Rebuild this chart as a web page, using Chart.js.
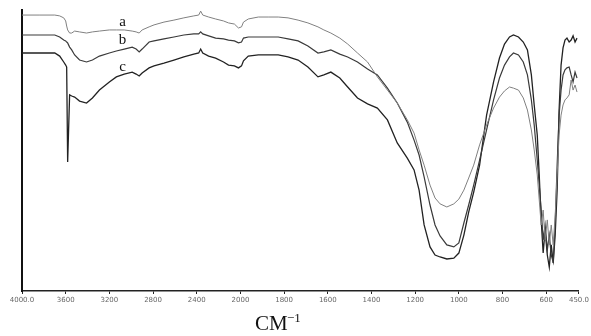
<!DOCTYPE html>
<html>
<head>
<meta charset="utf-8">
<script src="https://cdn.jsdelivr.net/npm/chart.js@4.4.1/dist/chart.umd.min.js"></script>
<style>
  html, body { margin: 0; padding: 0; background: #fff; }
  #wrap { width: 591px; height: 336px; position: relative; }
</style>
</head>
<body>
<div id="wrap"><canvas id="irChart"></canvas></div>
<script>
// Wavenumbers (cm-1) shared by the three spectra
const wavenumbers = [
  4000, 3836, 3700, 3655, 3618, 3600, 3591, 3582, 3564, 3545,
  3518, 3473, 3409, 3355, 3291, 3200, 3136, 3064, 2991, 2955,
  2927, 2900, 2836, 2791, 2700, 2609, 2518, 2427, 2382, 2364,
  2345, 2291, 2227, 2155, 2109, 2055, 2018,
  1995, 1986, 1964, 1918, 1873, 1827, 1782, 1736, 1691, 1645,
  1618, 1586, 1545, 1509, 1464, 1418, 1373, 1327, 1282, 1236,
  1205, 1182, 1159, 1132, 1109, 1086, 1055, 1023, 1000, 977,
  955, 932, 905, 873, 841, 814, 791, 768, 750, 727,
  705, 686, 668, 655, 641, 632, 623, 614, 605, 595,
  586, 577, 568, 559, 550, 541, 532, 523, 514, 505,
  495, 486, 477, 468, 459
];

// Transmittance (%)
const seriesA = [
  98.2, 98.2, 98.2, 97.9, 97.2, 96.1, 94.3, 92.9, 91.8, 91.8,
  92.5, 92.2, 91.8, 92.2, 92.5, 92.9, 92.9, 92.9, 92.5, 92.2,
  91.8, 92.9, 94.0, 94.7, 95.7, 96.4, 97.2, 97.9, 98.2, 99.6,
  98.2, 97.5, 96.8, 96.1, 95.4, 95.0, 93.6,
  94.0, 95.7, 96.8, 97.5, 97.5, 97.5, 97.2, 96.4, 95.4, 94.0,
  92.9, 91.8, 90.0, 87.9, 84.7, 81.5, 76.2, 71.5, 66.9, 60.9,
  56.2, 50.2, 44.8, 37.7, 33.1, 31.0, 29.9, 31.0, 32.7, 35.9,
  40.2, 44.8, 52.0, 59.1, 65.1, 69.0, 71.2, 72.6, 72.2, 71.5,
  68.7, 64.4, 57.3, 50.2, 41.3, 32.4, 23.5, 28.8, 18.2, 25.3,
  16.4, 23.5, 16.4, 27.0, 41.3, 55.5, 62.6, 66.2, 68.0, 68.7,
  69.8, 75.1, 71.5, 73.3, 70.8
];
const seriesB = [
  91.1, 91.1, 91.1, 90.4, 89.3, 89.0, 88.6, 88.3, 86.8, 85.8,
  84.0, 82.2, 81.5, 82.2, 83.6, 84.7, 85.4, 86.1, 86.8, 86.1,
  85.1, 86.1, 88.6, 89.0, 89.7, 90.4, 91.1, 91.5, 91.5, 92.2,
  91.5, 90.8, 90.0, 89.7, 89.3, 89.0, 88.3,
  88.6, 90.0, 90.4, 90.4, 90.4, 90.4, 89.7, 89.0, 87.2, 84.7,
  85.1, 85.8, 84.3, 83.3, 81.5, 79.0, 76.9, 72.2, 66.9, 60.1,
  53.7, 48.4, 40.6, 30.6, 23.5, 19.6, 16.4, 15.7, 17.1, 24.2,
  30.6, 37.7, 46.6, 57.3, 68.0, 75.8, 80.4, 83.3, 84.7, 84.0,
  81.5, 76.9, 68.0, 59.1, 46.6, 37.7, 28.8, 18.2, 23.5, 14.6,
  19.9, 12.8, 10.3, 23.5, 44.8, 62.6, 71.5, 76.9, 78.7, 79.4,
  79.7, 76.9, 74.4, 77.9, 75.8
];
const seriesC = [
  84.7, 84.7, 84.7, 83.6, 81.5, 80.4, 79.7, 45.9, 69.8, 69.4,
  69.0, 67.6, 66.9, 68.7, 71.5, 74.4, 76.2, 77.2, 77.9, 77.2,
  76.5, 77.6, 79.4, 80.1, 81.1, 82.2, 83.3, 84.3, 84.7, 86.1,
  84.7, 83.6, 82.9, 81.5, 80.4, 80.1, 79.4,
  80.1, 81.9, 83.6, 84.0, 84.0, 84.0, 83.3, 82.2, 79.7, 76.2,
  76.9, 77.9, 75.8, 72.6, 68.7, 66.6, 65.1, 60.9, 52.7, 47.3,
  43.1, 35.9, 23.5, 15.7, 12.8, 12.1, 11.4, 11.7, 13.5, 19.9,
  28.1, 35.2, 44.8, 62.6, 74.4, 82.9, 87.9, 90.4, 91.1, 90.4,
  88.6, 85.8, 76.9, 66.2, 55.5, 41.3, 25.3, 13.5, 21.7, 12.8,
  8.5, 16.4, 10.0, 19.9, 35.9, 64.4, 80.4, 86.5, 89.3, 90.0,
  88.6, 89.3, 90.8, 88.6, 90.0
];

// Axis ticks (scale changes at 2000 cm-1, like the instrument chart)
const tickWavenumbers = [4000, 3600, 3200, 2800, 2400, 2000, 1800, 1600, 1400, 1200, 1000, 800, 600, 450];
const tickLabels = ["4000.0", "3600", "3200", "2800", "2400", "2000", "1800", "1600", "1400", "1200", "1000", "800", "600", "450.0"];

// Curve names and where they are written
const curveNames = ["a", "b", "c"];
const nameWn = [3080, 3080, 3080];
const nameT = [95.7, 89.3, 79.7];

// wavenumber -> position on the split axis
function toPos(wn) {
  return wn >= 2000 ? (4000 - wn) / 400 : 5 + (2000 - wn) / 200;
}

function points(values) {
  return wavenumbers.map((wn, i) => ({ x: toPos(wn), y: values[i] }));
}

const namePlugin = {
  id: "curveNames",
  afterDatasetsDraw(chart) {
    const ctx = chart.ctx;
    const xs = chart.scales.x, ys = chart.scales.y;
    ctx.save();
    ctx.fillStyle = "#111";
    ctx.font = "15px 'Liberation Serif', serif";
    ctx.textAlign = "center";
    ctx.textBaseline = "middle";
    curveNames.forEach((n, i) => {
      ctx.fillText(n, xs.getPixelForValue(toPos(nameWn[i])), ys.getPixelForValue(nameT[i]));
    });

    // axis unit, CM^-1
    ctx.textAlign = "left";
    ctx.textBaseline = "alphabetic";
    ctx.font = "21px 'Liberation Serif', serif";
    ctx.fillText("CM", 255, 330);
    ctx.font = "13px 'Liberation Serif', serif";
    ctx.fillText("\u22121", 287, 322);
    ctx.restore();
  }
};

const lineStyle = { pointRadius: 0, fill: false, tension: 0 };

new Chart(document.getElementById("irChart"), {
  type: "line",
  data: {
    datasets: [
      { label: "a", data: points(seriesA), borderColor: "#808080", borderWidth: 1, ...lineStyle },
      { label: "b", data: points(seriesB), borderColor: "#3a3a3a", borderWidth: 1.2, ...lineStyle },
      { label: "c", data: points(seriesC), borderColor: "#222", borderWidth: 1.3, ...lineStyle }
    ]
  },
  options: {
    responsive: true,
    maintainAspectRatio: false,
    animation: false,
    layout: { padding: { left: 22, right: 10, top: 10, bottom: 0 } },
    plugins: { legend: { display: false }, tooltip: { enabled: false } },
    scales: {
      x: {
        type: "linear",
        min: 0,
        max: toPos(450),
        afterBuildTicks: (s) => { s.ticks = tickWavenumbers.map(w => ({ value: toPos(w) })); },
        afterFit: (s) => { s.height = 45; },
        ticks: {
          autoSkip: false,
          maxRotation: 0,
          padding: 2,
          color: "#666",
          font: { size: 7, family: "'DejaVu Sans', sans-serif" },
          callback: (v, i) => tickLabels[i]
        },
        grid: { display: true, drawOnChartArea: false, drawTicks: true, tickLength: 3, color: "#222" },
        border: { display: true, color: "#222", width: 1.5 }
      },
      y: {
        min: 0,
        max: 100,
        afterFit: (s) => { s.width = 0; },
        ticks: { display: false },
        grid: { display: false },
        border: { display: true, color: "#111", width: 2 }
      }
    }
  },
  plugins: [namePlugin]
});
</script>
</body>
</html>
